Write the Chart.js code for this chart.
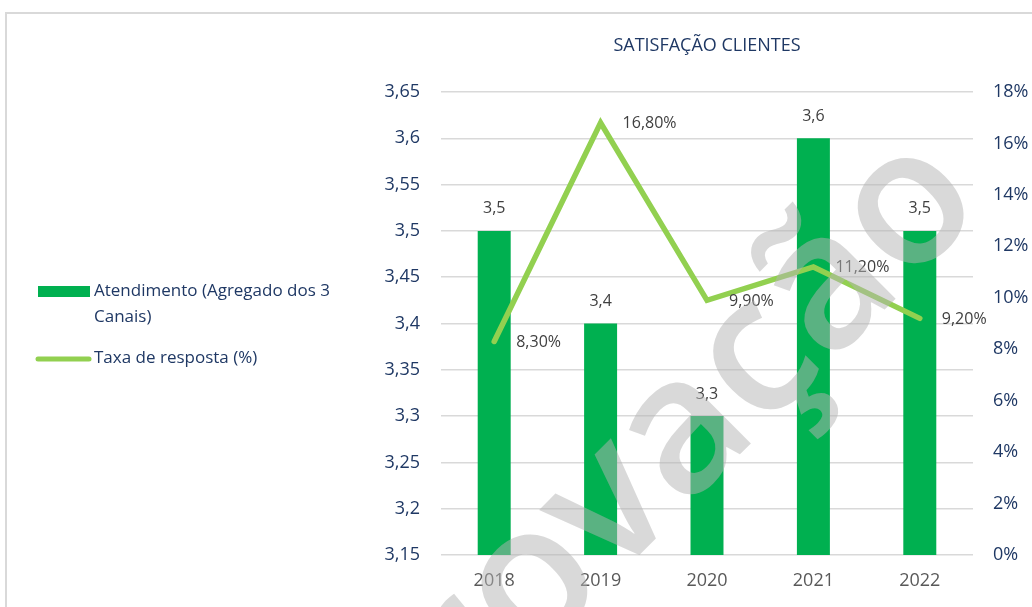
<!DOCTYPE html>
<html>
<head>
<meta charset="utf-8">
<script src="https://cdn.jsdelivr.net/npm/chart.js@4.4.0/dist/chart.umd.min.js"></script>
<style>
body{margin:0;background:#fff;}
#wrap{position:relative;width:1032px;height:607px;}
</style>
</head>
<body>
<div id="wrap"><canvas id="grafico"></canvas></div>
<script>
var anos = ['2018', '2019', '2020', '2021', '2022'];
var atendimento = [3.5, 3.4, 3.3, 3.6, 3.5];
var taxaResposta = [8.3, 16.8, 9.9, 11.2, 9.2];
var ticksEsquerda = [3.15, 3.2, 3.25, 3.3, 3.35, 3.4, 3.45, 3.5, 3.55, 3.6, 3.65];
var ticksDireita = [0, 2, 4, 6, 8, 10, 12, 14, 16, 18];
var legendaAtendimento = ['Atendimento (Agregado dos 3', 'Canais)'];
var legendaTaxa = 'Taxa de resposta (%)';
var titulo = 'SATISFAÇÃO CLIENTES';
var marcaAgua = 'Aprovação';

var verdeBarra = '#00B050';
var verdeLinha = '#92D050';
var azulTexto = '#1F3864';
var fonte = "'Open Sans', sans-serif";

function virgula(v) {
  return String(Number(v.toFixed(2))).replace('.', ',');
}

// rotulos, legenda, moldura e marca de agua
var extras = {
  id: 'extras',
  beforeDraw: function(chart) {
    var ctx = chart.ctx;
    ctx.save();
    ctx.strokeStyle = '#D9D9D9';
    ctx.lineWidth = 2;
    ctx.beginPath();
    ctx.moveTo(6, 607);
    ctx.lineTo(6, 13);
    ctx.lineTo(1032, 13);
    ctx.stroke();
    ctx.restore();
  },
  afterDatasetsDraw: function(chart) {
    var ctx = chart.ctx;
    ctx.save();
    ctx.font = '16px ' + fonte;
    ctx.fillStyle = '#404040';
    ctx.textBaseline = 'middle';
    var barras = chart.getDatasetMeta(0).data;
    ctx.textAlign = 'center';
    for (var i = 0; i < barras.length; i++) {
      ctx.fillText(virgula(atendimento[i]), barras[i].x, barras[i].y - 22);
    }
    var pontos = chart.getDatasetMeta(1).data;
    ctx.textAlign = 'left';
    for (var j = 0; j < pontos.length; j++) {
      ctx.fillText(taxaResposta[j].toFixed(2).replace('.', ',') + '%', pontos[j].x + 22, pontos[j].y + 1);
    }

    // legenda
    ctx.fillStyle = verdeBarra;
    ctx.fillRect(38, 286, 52, 11);
    ctx.strokeStyle = verdeLinha;
    ctx.lineWidth = 5;
    ctx.lineCap = 'round';
    ctx.beginPath();
    ctx.moveTo(38, 359);
    ctx.lineTo(89, 359);
    ctx.stroke();
    ctx.fillStyle = azulTexto;
    ctx.font = '17px ' + fonte;
    ctx.fillText(legendaAtendimento[0], 94, 291);
    ctx.fillText(legendaAtendimento[1], 94, 317);
    ctx.fillText(legendaTaxa, 94, 358);
    ctx.restore();
  },
  afterDraw: function(chart) {
    var ctx = chart.ctx;
    ctx.save();
    ctx.font = '600 190px ' + fonte;
    var largura = ctx.measureText(marcaAgua).width;
    var letraO = ctx.measureText('o');
    // centro do ultimo "o" em (910, 210)
    ctx.translate(910, 210);
    ctx.rotate(-Math.PI / 4);
    ctx.fillStyle = 'rgba(180,180,180,0.5)';
    ctx.textAlign = 'left';
    ctx.textBaseline = 'alphabetic';
    ctx.fillText(marcaAgua, -(largura - letraO.width / 2), letraO.actualBoundingBoxAscent / 2);
    ctx.restore();
  }
};

var ctx = document.getElementById('grafico');
var grafico = new Chart(ctx, {
  type: 'bar',
  data: {
    labels: anos,
    datasets: [{
      type: 'bar',
      label: legendaAtendimento.join(' '),
      data: atendimento,
      backgroundColor: verdeBarra,
      barPercentage: 0.31,
      categoryPercentage: 1,
      yAxisID: 'y',
      order: 2
    }, {
      type: 'line',
      label: legendaTaxa,
      data: taxaResposta,
      borderColor: verdeLinha,
      borderWidth: 5.5,
      borderCapStyle: 'round',
      borderJoinStyle: 'miter',
      pointRadius: 0,
      tension: 0,
      yAxisID: 'y1',
      order: 1
    }]
  },
  options: {
    responsive: true,
    maintainAspectRatio: false,
    animation: false,
    layout: {padding: {left: 380, right: 0, top: 0, bottom: 0}},
    plugins: {
      legend: {display: false},
      tooltip: {enabled: false},
      title: {
        display: true,
        text: titulo,
        fullSize: false,
        color: azulTexto,
        font: {family: fonte, size: 18, weight: 'normal'},
        padding: {top: 35, bottom: 35.4}
      }
    },
    scales: {
      x: {
        grid: {display: false, drawTicks: false},
        border: {display: false},
        ticks: {color: '#595959', font: {family: fonte, size: 18}, padding: 15},
        afterFit: function(s) { s.height = 52; }
      },
      y: {
        position: 'left',
        min: 3.15,
        max: 3.65,
        grid: {color: '#D9D9D9', lineWidth: 1.5, drawTicks: false},
        border: {display: false},
        afterBuildTicks: function(s) { s.ticks = ticksEsquerda.map(function(v) { return {value: v}; }); },
        ticks: {
          color: azulTexto,
          font: {family: fonte, size: 18},
          padding: 21,
          callback: function(v) { return virgula(v); }
        },
        afterFit: function(s) { s.width = 61; }
      },
      y1: {
        position: 'right',
        min: 0,
        max: 18,
        grid: {display: false, drawTicks: false},
        border: {display: false},
        afterBuildTicks: function(s) { s.ticks = ticksDireita.map(function(v) { return {value: v}; }); },
        ticks: {
          color: azulTexto,
          font: {family: fonte, size: 18},
          padding: 20,
          callback: function(v) { return v + '%'; }
        },
        afterFit: function(s) { s.width = 59; }
      }
    }
  },
  plugins: [extras]
});
</script>
</body>
</html>
